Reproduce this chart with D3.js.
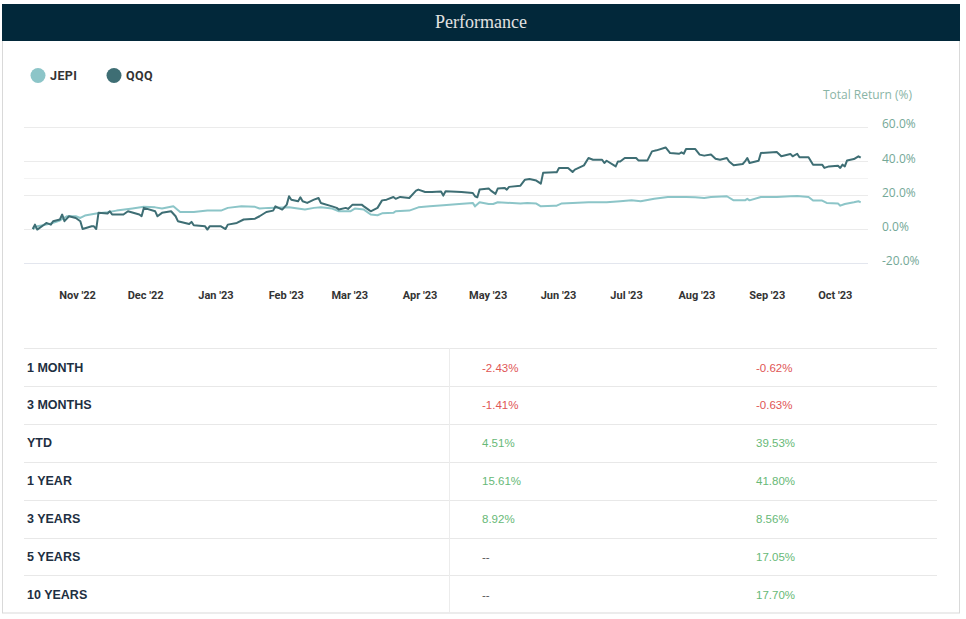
<!DOCTYPE html>
<html>
<head>
<meta charset="utf-8">
<script src="https://cdn.jsdelivr.net/npm/d3@7"></script>
<style>
  html, body { margin: 0; padding: 0; background: #fff; }
  svg { display: block; }
</style>
</head>
<body>
<svg id="chart" width="966" height="619"></svg>
<script>
// ---------- DATA ----------
const seriesNames = ["JEPI", "QQQ"];
const seriesColors = ["#8cc5c8", "#3e6e74"];

const jepiDates = ["2022-10-12","2022-10-14","2022-10-18","2022-10-21","2022-10-24","2022-10-27","2022-10-31","2022-11-02","2022-11-04","2022-11-09","2022-11-14","2022-11-18","2022-11-25","2022-11-30","2022-12-05","2022-12-08","2022-12-13","2022-12-16","2022-12-22","2022-12-28","2023-01-03","2023-01-06","2023-01-12","2023-01-18","2023-01-20","2023-01-24","2023-02-02","2023-02-09","2023-02-13","2023-02-16","2023-02-21","2023-02-24","2023-03-01","2023-03-03","2023-03-07","2023-03-10","2023-03-13","2023-03-15","2023-03-20","2023-03-21","2023-03-27","2023-03-31","2023-04-05","2023-04-11","2023-04-18","2023-04-24","2023-04-25","2023-04-27","2023-05-01","2023-05-03","2023-05-05","2023-05-15","2023-05-18","2023-05-22","2023-05-24","2023-05-30","2023-05-31","2023-06-02","2023-06-07","2023-06-14","2023-06-22","2023-06-28","2023-07-03","2023-07-07","2023-07-13","2023-07-19","2023-07-27","2023-07-31","2023-08-04","2023-08-07","2023-08-14","2023-08-17","2023-08-22","2023-08-23","2023-08-24","2023-08-29","2023-09-05","2023-09-11","2023-09-14","2023-09-19","2023-09-21","2023-09-25","2023-09-27","2023-10-02","2023-10-03","2023-10-05","2023-10-09","2023-10-11","2023-10-12"];
const jepiValues = [0,1.6,2.6,3.6,5.0,7.5,7.5,6.5,7.9,9.1,9.8,10.8,12.0,13.0,12.7,12.0,13.3,10.0,10.0,10.8,10.8,12.4,13.3,13.0,12.0,12.4,12.7,11.4,12.4,12.7,12.0,10.4,10.4,12.0,11.4,8.5,8.1,9.2,9.5,10.4,10.8,12.7,13.3,13.9,14.7,15.3,13.3,15.7,14.7,14.7,15.7,14.9,15.3,14.9,13.3,13.7,13.7,14.9,15.3,15.7,15.7,16.3,16.8,16.3,17.8,18.8,18.8,18.6,18.2,18.8,19.2,16.8,16.8,17.7,16.8,18.8,18.8,19.2,19.4,18.8,16.7,16.7,15.3,14.9,13.7,14.7,15.7,16.3,15.61];

const qqqDates = ["2022-10-12","2022-10-13","2022-10-14","2022-10-17","2022-10-18","2022-10-20","2022-10-21","2022-10-24","2022-10-25","2022-10-26","2022-10-28","2022-10-31","2022-11-02","2022-11-03","2022-11-07","2022-11-08","2022-11-09","2022-11-10","2022-11-14","2022-11-15","2022-11-16","2022-11-21","2022-11-23","2022-11-28","2022-11-29","2022-11-30","2022-12-05","2022-12-06","2022-12-08","2022-12-12","2022-12-14","2022-12-15","2022-12-20","2022-12-21","2022-12-22","2022-12-27","2022-12-28","2022-12-29","2023-01-03","2023-01-05","2023-01-06","2023-01-10","2023-01-13","2023-01-18","2023-01-20","2023-01-23","2023-01-26","2023-01-27","2023-01-30","2023-02-01","2023-02-02","2023-02-03","2023-02-06","2023-02-07","2023-02-08","2023-02-10","2023-02-13","2023-02-15","2023-02-16","2023-02-21","2023-02-23","2023-02-24","2023-02-27","2023-02-28","2023-03-02","2023-03-06","2023-03-07","2023-03-09","2023-03-10","2023-03-13","2023-03-15","2023-03-17","2023-03-20","2023-03-21","2023-03-23","2023-03-27","2023-03-30","2023-03-31","2023-04-03","2023-04-06","2023-04-10","2023-04-11","2023-04-12","2023-04-19","2023-04-24","2023-04-25","2023-04-26","2023-04-27","2023-05-01","2023-05-02","2023-05-04","2023-05-05","2023-05-08","2023-05-09","2023-05-10","2023-05-15","2023-05-17","2023-05-19","2023-05-22","2023-05-24","2023-05-25","2023-05-30","2023-05-31","2023-06-01","2023-06-05","2023-06-07","2023-06-08","2023-06-12","2023-06-14","2023-06-16","2023-06-20","2023-06-21","2023-06-22","2023-06-26","2023-06-27","2023-06-28","2023-06-30","2023-07-05","2023-07-06","2023-07-10","2023-07-12","2023-07-14","2023-07-18","2023-07-20","2023-07-24","2023-07-25","2023-07-26","2023-07-27","2023-07-31","2023-08-02","2023-08-04","2023-08-07","2023-08-09","2023-08-11","2023-08-14","2023-08-15","2023-08-17","2023-08-21","2023-08-22","2023-08-23","2023-08-24","2023-08-28","2023-08-29","2023-09-05","2023-09-07","2023-09-11","2023-09-12","2023-09-14","2023-09-15","2023-09-19","2023-09-21","2023-09-25","2023-09-26","2023-09-28","2023-10-02","2023-10-03","2023-10-04","2023-10-05","2023-10-06","2023-10-09","2023-10-11","2023-10-12"];
const qqqValues = [0,2.6,-0.3,2.5,3.6,2.6,4.6,5.6,8.5,4.6,7.5,6.5,4.6,0,1.6,1.6,0,9.5,9.1,10.4,8.5,8.5,10.4,8.5,7.5,12.4,10.4,7.5,9.5,10.4,7.5,4.6,3.0,4.2,2.2,1.6,-0.3,1.6,1.6,0,2.6,3.6,5.6,6.1,7.5,10.0,10.8,13.3,11.4,14.3,19.2,17.2,16.3,18.6,16.3,15.3,17.2,18.2,15.3,13.3,12.4,11.4,12.4,11.8,14.3,14.3,13.3,11.4,10.4,12.4,16.8,17.2,18.8,17.7,18.8,18.2,22.5,23.1,21.7,21.7,22.0,19.6,22.1,21.7,21.1,19.2,18.6,23.1,23.7,22.5,20.6,23.7,24.1,23.1,24.7,25.4,28.9,29.3,28.4,26.6,32.9,33.2,33.2,35.8,35.8,33.4,34.8,37.3,41.6,40.6,40.6,38.7,40.0,36.7,39.6,39.6,41.6,41.6,40.2,40.2,45.5,46.1,47.8,44.5,44.1,44.9,44.1,46.9,46.9,43.6,43.0,43.6,41.2,40.6,41.6,39.6,37.3,38.1,39.6,41.6,38.7,40.0,44.5,45.1,42.6,44.0,42.6,44.1,42.0,42.0,37.7,37.7,35.8,36.7,37.1,35.8,37.7,36.7,40.2,41.0,42.6,41.8];

const yTickValues = [-20, 0, 20, 40, 60];
const yGridValues = [-20, 0, 20, 30, 40, 60];
const xTickDates = ["2022-11-01","2022-12-01","2023-01-01","2023-02-01","2023-03-01","2023-04-01","2023-05-01","2023-06-01","2023-07-01","2023-08-01","2023-09-01","2023-10-01"];

const periods = ["1 MONTH", "3 MONTHS", "YTD", "1 YEAR", "3 YEARS", "5 YEARS", "10 YEARS"];
const jepiReturns = [-2.43, -1.41, 4.51, 15.61, 8.92, null, null];
const qqqReturns = [-0.62, -0.63, 39.53, 41.80, 8.56, 17.05, 17.70];

// ---------- DRAW ----------
const svg = d3.select("#chart");
const parse = d3.timeParse("%Y-%m-%d");

// card frame
svg.append("rect").attr("x", 2.5).attr("y", 4.5).attr("width", 957).attr("height", 608.5)
  .attr("fill", "#fff").attr("stroke", "#d9d9d9").attr("stroke-width", 1);
// header
svg.append("rect").attr("x", 2).attr("y", 4).attr("width", 958).attr("height", 37).attr("fill", "#02283a");
svg.append("text").attr("x", 481).attr("y", 27.5).attr("text-anchor", "middle")
  .attr("font-family", "'Liberation Serif', serif").attr("font-size", 18).attr("fill", "#e2e2e2")
  .text("Performance");

// legend
const legend = svg.append("g");
const legendX = [38, 114];
seriesNames.forEach((n, i) => {
  legend.append("circle").attr("cx", legendX[i]).attr("cy", 75.5).attr("r", 7.5).attr("fill", seriesColors[i]);
  legend.append("text").attr("x", legendX[i] + 12).attr("y", 80).attr("font-family", "Roboto, sans-serif")
    .attr("font-weight", 700).attr("font-size", 12.5).attr("fill", "#333").attr("letter-spacing", 0.4).text(n);
});

// scales
const x = d3.scaleTime().domain([parse("2022-10-12"), parse("2023-10-12")]).range([32.7, 860.7]);
const y = d3.scaleLinear().domain([-20, 60]).range([263.2, 126.6]);
const plotLeft = 24, plotRight = 868;

// grid
svg.append("g").selectAll("line").data(yGridValues).join("line")
  .attr("x1", plotLeft).attr("x2", plotRight)
  .attr("y1", d => Math.round(y(d)) + 0.5).attr("y2", d => Math.round(y(d)) + 0.5)
  .attr("stroke", d => d === -20 ? "#e3e6ee" : (d === 30 ? "#f3f3f3" : "#ebebeb")).attr("stroke-width", 1);

// y axis labels (right)
const yAxis = d3.axisRight(y).tickValues(yTickValues).tickSize(0).tickPadding(0)
  .tickFormat(d => d.toFixed(1) + "%");
const yg = svg.append("g").attr("transform", `translate(882,-2.5)`).call(yAxis);
yg.select(".domain").remove();
yg.selectAll("text").attr("font-family", "'Open Sans', sans-serif").attr("font-size", 12)
  .attr("fill", "#74a897");

svg.append("text").attr("x", 912).attr("y", 99).attr("text-anchor", "end")
  .attr("font-family", "'Open Sans', sans-serif").attr("font-size", 12).attr("fill", "#8ab5a6")
  .text("Total Return (%)");

// x axis
const xAxis = d3.axisBottom(x).tickValues(xTickDates.map(parse)).tickSize(0).tickPadding(0)
  .tickFormat(d3.timeFormat("%b '%y"));
const xg = svg.append("g").attr("transform", "translate(-1,291.5)").call(xAxis);
xg.select(".domain").remove();
xg.selectAll("text").attr("font-family", "Roboto, sans-serif").attr("font-weight", 700)
  .attr("font-size", 11).attr("fill", "#333");

// lines
const line = d3.line().x(d => x(d[0])).y(d => y(d[1])).curve(d3.curveLinear);
const jepi = jepiDates.map((d, i) => [parse(d), jepiValues[i]]);
const qqq = qqqDates.map((d, i) => [parse(d), qqqValues[i]]);
svg.append("path").datum(jepi).attr("d", line).attr("fill", "none")
  .attr("stroke", seriesColors[0]).attr("stroke-width", 2).attr("stroke-linejoin", "round");
svg.append("path").datum(qqq).attr("d", line).attr("fill", "none")
  .attr("stroke", seriesColors[1]).attr("stroke-width", 2).attr("stroke-linejoin", "round");

// table
const tableTop = 348, rowH = 37.9, tLeft = 24, tRight = 937, divX = 449.5;
const tg = svg.append("g");
periods.forEach((p, i) => {
  const ry = tableTop + i * rowH;
  tg.append("line").attr("x1", tLeft).attr("x2", tRight).attr("y1", Math.round(ry) + 0.5).attr("y2", Math.round(ry) + 0.5)
    .attr("stroke", "#e8e8e8");
  tg.append("text").attr("x", 27).attr("y", ry + 23.5).attr("font-family", "'Liberation Sans', Arial, sans-serif")
    .attr("font-weight", 700).attr("font-size", 12.5).attr("fill", "#1e2f42").text(p);
  const vals = [jepiReturns[i], qqqReturns[i]];
  const cx = [482, 756];
  vals.forEach((v, j) => {
    tg.append("text").attr("x", cx[j]).attr("y", ry + 23.5).attr("font-family", "'Liberation Sans', Arial, sans-serif")
      .attr("font-size", 11.5)
      .attr("fill", v === null ? "#555" : (v < 0 ? "#e05555" : "#67b977"))
      .text(v === null ? "--" : v.toFixed(2) + "%");
  });
});
tg.append("line").attr("x1", divX).attr("x2", divX).attr("y1", tableTop).attr("y2", 612).attr("stroke", "#ececec");
</script>
</body>
</html>
